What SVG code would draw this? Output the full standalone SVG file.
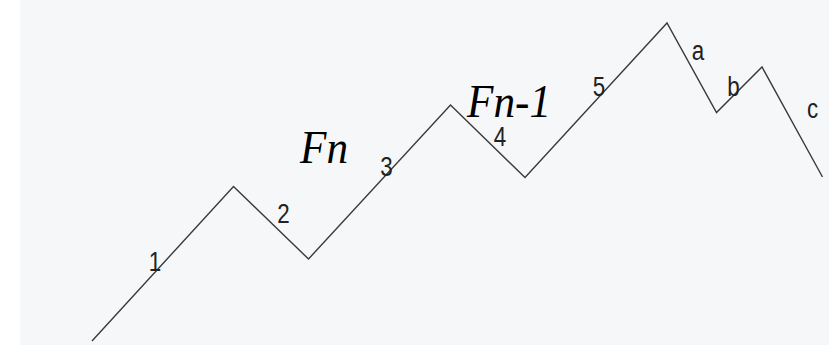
<svg xmlns="http://www.w3.org/2000/svg" width="829" height="346" viewBox="0 0 829 346">
<style>
.wave{fill:none;stroke:#3a3a3a;stroke-width:1.4;stroke-linejoin:miter}
.lbl{font-family:"Liberation Sans",Arial,sans-serif;font-size:28px;fill:#222;text-anchor:middle}
.big{font-family:"Liberation Serif","Times New Roman",serif;font-style:italic;font-size:47px;fill:#000}
</style>
<rect x="0" y="0" width="829" height="346" fill="#ffffff"/>
<rect x="20" y="0" width="809" height="345" fill="#f6f7f9"/>
<g id="connectors">
<polyline class="wave" points="92,341 233.5,186.5 308.5,259 450.5,105 525,177.5 667,23 716.5,112.5 762,67 822.5,177"/>
</g>
<g id="wave-1"><text class="lbl" transform="translate(155,271) scale(0.8,1)">1</text></g>
<g id="wave-2"><text class="lbl" transform="translate(283.5,223) scale(0.8,1)">2</text></g>
<g id="wave-3"><text class="lbl" transform="translate(386.5,176) scale(0.8,1)">3</text></g>
<g id="wave-4"><text class="lbl" transform="translate(500,146) scale(0.8,1)">4</text></g>
<g id="wave-5"><text class="lbl" transform="translate(599,96) scale(0.8,1)">5</text></g>
<g id="wave-a"><text class="lbl" transform="translate(698,60) scale(0.8,1)">a</text></g>
<g id="wave-b"><text class="lbl" transform="translate(733.5,96) scale(0.8,1)">b</text></g>
<g id="wave-c"><text class="lbl" transform="translate(812.5,118) scale(0.8,1)">c</text></g>
<g id="label-fn"><text class="big" transform="translate(300,163) scale(0.92,1)">Fn</text></g>
<g id="label-fn1"><text class="big" transform="translate(467,117) scale(0.92,1)">Fn-1</text></g>
</svg>
